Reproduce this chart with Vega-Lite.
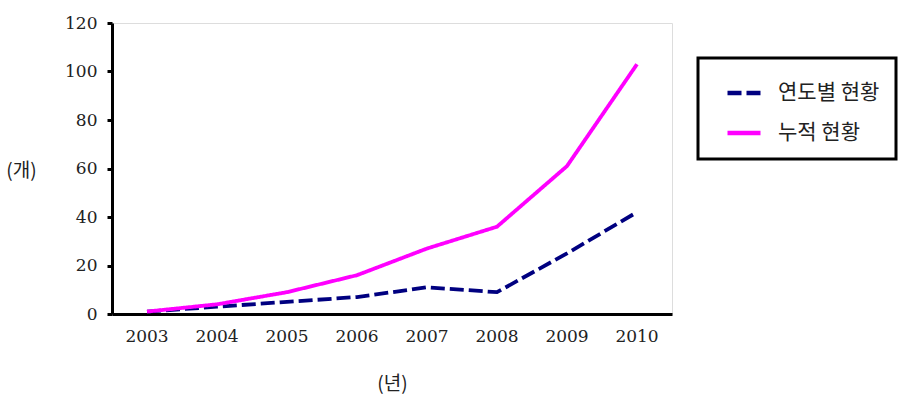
{
  "$schema": "https://vega.github.io/schema/vega-lite/v6.json",
  "width": 560,
  "height": 291,
  "autosize": "none",
  "padding": {"left": 112, "top": 23, "right": 247, "bottom": 89},
  "background": "white",
  "data": {
    "values": [
      {"year": "2003", "series": "연도별 현황", "value": 1},
      {"year": "2004", "series": "연도별 현황", "value": 3},
      {"year": "2005", "series": "연도별 현황", "value": 5},
      {"year": "2006", "series": "연도별 현황", "value": 7},
      {"year": "2007", "series": "연도별 현황", "value": 11},
      {"year": "2008", "series": "연도별 현황", "value": 9},
      {"year": "2009", "series": "연도별 현황", "value": 25},
      {"year": "2010", "series": "연도별 현황", "value": 42},
      {"year": "2003", "series": "누적 현황", "value": 1},
      {"year": "2004", "series": "누적 현황", "value": 4},
      {"year": "2005", "series": "누적 현황", "value": 9},
      {"year": "2006", "series": "누적 현황", "value": 16},
      {"year": "2007", "series": "누적 현황", "value": 27},
      {"year": "2008", "series": "누적 현황", "value": 36},
      {"year": "2009", "series": "누적 현황", "value": 61},
      {"year": "2010", "series": "누적 현황", "value": 103}
    ]
  },
  "mark": {"type": "line", "strokeWidth": 3.8},
  "encoding": {
    "x": {
      "field": "year",
      "type": "ordinal",
      "scale": {"type": "band", "paddingInner": 0, "paddingOuter": 0},
      "axis": {
        "title": "(년)",
        "titleFont": "Noto Sans CJK KR",
        "titleFontSize": 19,
        "titleFontWeight": "normal",
        "titleColor": "#222",
        "titleBaseline": "middle",
        "titleY": 69,
        "labelAngle": 0,
        "labelFont": "DejaVu Serif",
        "labelFontSize": 17,
        "labelColor": "#222",
        "labelPadding": 14,
        "ticks": false,
        "domainColor": "black",
        "domainWidth": 3,
        "grid": false
      }
    },
    "y": {
      "field": "value",
      "type": "quantitative",
      "scale": {"domain": [0, 120], "nice": false},
      "axis": {
        "values": [0, 20, 40, 60, 80, 100, 120],
        "title": "(개)",
        "titleAngle": 0,
        "titleX": -91,
        "titleY": 147,
        "titleAlign": "center",
        "titleBaseline": "middle",
        "titleFont": "Noto Sans CJK KR",
        "titleFontSize": 19,
        "titleFontWeight": "normal",
        "titleColor": "#222",
        "labelFont": "DejaVu Serif",
        "labelFontSize": 17,
        "labelColor": "#222",
        "labelPadding": 10,
        "tickSize": 5,
        "tickWidth": 3,
        "tickColor": "black",
        "domainColor": "black",
        "domainWidth": 3,
        "grid": false
      }
    },
    "color": {
      "field": "series",
      "type": "nominal",
      "scale": {"domain": ["연도별 현황", "누적 현황"], "range": ["#000080", "#FF00FF"]},
      "legend": {
        "title": null,
        "orient": "none",
        "legendX": 586,
        "legendY": 35,
        "padding": 16,
        "rowPadding": 11,
        "strokeColor": "black",
        "symbolType": "stroke",
        "symbolSize": 1089,
        "symbolStrokeWidth": 4.5,
        "symbolOffset": 11,
        "labelFont": "Noto Sans CJK KR",
        "labelFontSize": 21,
        "labelColor": "#222",
        "labelOffset": 15,
        "encode": {"legend": {"update": {"strokeWidth": {"value": 3}}}}
      }
    },
    "strokeDash": {
      "field": "series",
      "type": "nominal",
      "scale": {"domain": ["연도별 현황", "누적 현황"], "range": [[14, 5], [1, 0]]},
      "legend": null
    }
  }
}
